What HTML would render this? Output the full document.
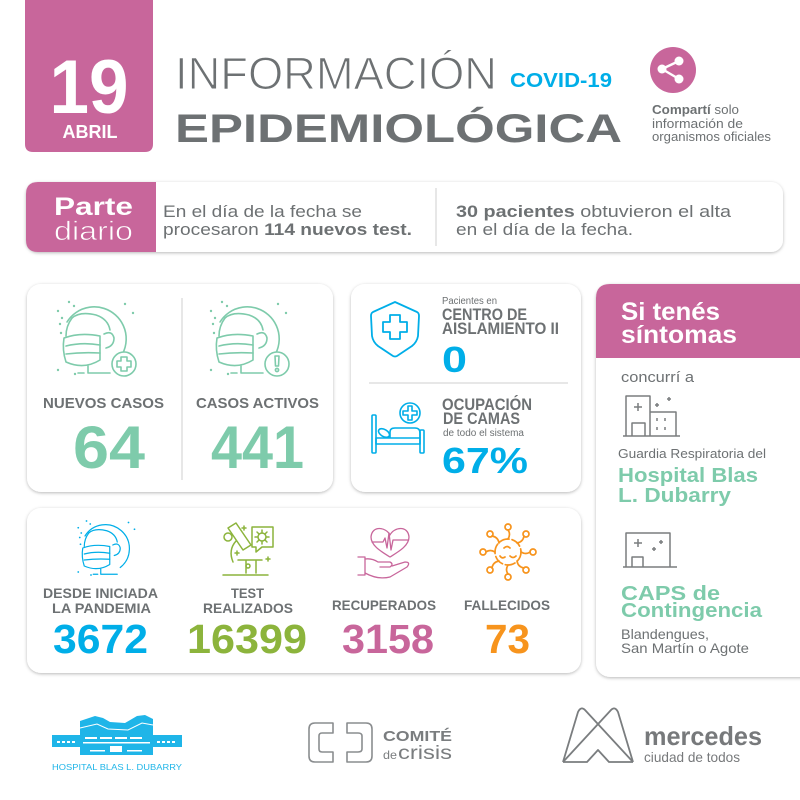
<!DOCTYPE html>
<html><head><meta charset="utf-8">
<style>
html,body{margin:0;padding:0;background:#fff;}
svg{display:block;}
text{font-family:"Liberation Sans",sans-serif;}
</style></head><body>
<svg width="800" height="800" viewBox="0 0 800 800" xmlns="http://www.w3.org/2000/svg">
<defs>
<filter id="sh" x="-5%" y="-5%" width="110%" height="115%">
<feDropShadow dx="0" dy="1" stdDeviation="1.6" flood-color="#000" flood-opacity="0.28"/>
</filter>
<g id="headbase" fill="none" stroke="currentColor" stroke-width="1.6" stroke-linecap="round" stroke-linejoin="round">
  <path d="M67,322 A32,32 0 1 1 114,364"/>
  <path d="M72,318 Q80,311 96,315 Q108,319 110,330"/>
  <path d="M72,318 Q66,326 66,336"/>
  <path d="M64,338 Q80,332 100,336 L100,360 Q84,370 66,362 Q62,350 64,338 Z"/>
  <path d="M66,346 Q82,342 100,345"/>
  <path d="M66,354 Q82,352 100,353"/>
  <path d="M104,334 Q112,330 114,338 Q114,346 106,348"/>
  <path d="M88,366 V373 H110"/>
  <path d="M78,373 H84"/>
  <g fill="currentColor" stroke="none">
    <circle cx="58" cy="311" r="1.2"/><circle cx="62" cy="318" r="1.2"/><circle cx="69" cy="302" r="1.2"/>
    <circle cx="74" cy="306" r="1.2"/><circle cx="60" cy="324" r="1.2"/><circle cx="61" cy="333" r="1.2"/>
    <circle cx="125" cy="304" r="1.2"/><circle cx="133" cy="313" r="1.2"/><circle cx="58" cy="370" r="1.2"/>
    <circle cx="75" cy="374" r="1.2"/>
  </g>
</g>
</defs>
<rect width="800" height="800" fill="#fff"/>

<!-- Date box -->
<path d="M25,0 H153 V144 Q153,152 145,152 H33 Q25,152 25,144 Z" fill="#c8669b"/>
<text x="89" y="113" text-anchor="middle" font-size="76" font-weight="bold" fill="#fff" textLength="79" lengthAdjust="spacingAndGlyphs">19</text>
<text x="90" y="138" text-anchor="middle" font-size="18" font-weight="bold" fill="#fff" textLength="55" lengthAdjust="spacingAndGlyphs">ABRIL</text>

<!-- Title -->
<text x="175" y="89" font-size="45" fill="#6d7173" stroke="#fff" stroke-width="1.1" textLength="322" lengthAdjust="spacingAndGlyphs">INFORMACIÓN</text>
<text x="510" y="87" font-size="20" font-weight="bold" fill="#00aee8" textLength="102" lengthAdjust="spacingAndGlyphs">COVID-19</text>
<text x="175" y="142" font-size="40" font-weight="bold" fill="#6d7173" textLength="447" lengthAdjust="spacingAndGlyphs">EPIDEMIOLÓGICA</text>

<!-- Share -->
<circle cx="673" cy="70" r="23" fill="#c8669b"/>
<g stroke="#fff" stroke-width="2.4"><line x1="662" y1="69" x2="679" y2="61"/><line x1="662" y1="69" x2="679" y2="79"/></g>
<g fill="#fff"><circle cx="662" cy="69" r="4.5"/><circle cx="679" cy="61" r="4.5"/><circle cx="679" cy="79" r="4.5"/></g>
<text x="652" y="114" font-size="13" fill="#6d7173" textLength="87" lengthAdjust="spacingAndGlyphs"><tspan font-weight="bold">Compartí</tspan> solo</text>
<text x="652" y="128" font-size="13" fill="#6d7173" textLength="91" lengthAdjust="spacingAndGlyphs">información de</text>
<text x="652" y="141" font-size="13" fill="#6d7173" textLength="119" lengthAdjust="spacingAndGlyphs">organismos oficiales</text>

<!-- Parte diario -->
<rect x="26" y="182" width="757" height="70" rx="12" fill="#fff" filter="url(#sh)"/>
<path d="M38,182 H156 V252 H38 Q26,252 26,240 V194 Q26,182 38,182 Z" fill="#c8669b"/>
<text x="54" y="215" font-size="25" font-weight="bold" fill="#fff" textLength="79" lengthAdjust="spacingAndGlyphs">Parte</text>
<text x="54" y="240" font-size="27" fill="#fff" stroke="#c8669b" stroke-width="0.7" textLength="79" lengthAdjust="spacingAndGlyphs">diario</text>
<text x="163" y="217" font-size="17" fill="#6d7173" textLength="199" lengthAdjust="spacingAndGlyphs">En el día de la fecha se</text>
<text x="163" y="235" font-size="17" fill="#6d7173" textLength="249" lengthAdjust="spacingAndGlyphs">procesaron <tspan font-weight="bold">114 nuevos test.</tspan></text>
<line x1="436" y1="188" x2="436" y2="246" stroke="#cfcfcf" stroke-width="1"/>
<text x="456" y="217" font-size="17" fill="#6d7173" textLength="275" lengthAdjust="spacingAndGlyphs"><tspan font-weight="bold">30 pacientes</tspan> obtuvieron el alta</text>
<text x="456" y="235" font-size="17" fill="#6d7173" textLength="177" lengthAdjust="spacingAndGlyphs">en el día de la fecha.</text>

<!-- Card 1 -->
<rect x="27" y="284" width="306" height="208" rx="14" fill="#fff" filter="url(#sh)"/>
<line x1="182" y1="298" x2="182" y2="480" stroke="#cfcfcf" stroke-width="1"/>
<use href="#headbase" style="color:#7ecbab"/>
<use href="#headbase" style="color:#7ecbab" transform="translate(153,0)"/>
<g fill="#fff" stroke="#7ecbab" stroke-width="1.6" stroke-linejoin="round">
  <circle cx="124" cy="364" r="12"/>
  <path d="M121,357 H127 V361 H131 V367 H127 V371 H121 V367 H117 V361 H121 Z"/>
  <circle cx="277" cy="364" r="12"/>
  <path d="M275,356 H279 L278.5,366 H275.5 Z"/>
  <circle cx="277" cy="370" r="1.6"/>
</g>
<text x="43" y="408" font-size="15" font-weight="bold" fill="#6d7173" textLength="121" lengthAdjust="spacingAndGlyphs">NUEVOS CASOS</text>
<text x="73" y="468" font-size="60" font-weight="bold" fill="#7ecbab" textLength="72" lengthAdjust="spacingAndGlyphs">64</text>
<text x="196" y="408" font-size="15" font-weight="bold" fill="#6d7173" textLength="123" lengthAdjust="spacingAndGlyphs">CASOS ACTIVOS</text>
<text x="211" y="468" font-size="60" font-weight="bold" fill="#7ecbab" textLength="93" lengthAdjust="spacingAndGlyphs">441</text>

<!-- Card 2 -->
<rect x="351" y="284" width="230" height="208" rx="14" fill="#fff" filter="url(#sh)"/>
<g fill="none" stroke="#00aee8" stroke-width="1.8" stroke-linejoin="round">
  <path d="M395,302 L417,312 Q419,313 419,316 L418,336 Q417,342 412,346 L397,356 Q395,357 393,356 L378,346 Q373,342 372,336 L371,316 Q371,313 373,312 Z"/>
  <path d="M390,315 H400 V322 H407 V332 H400 V339 H390 V332 H383 V322 H390 Z"/>
</g>
<text x="442" y="304" font-size="10" fill="#6d7173" textLength="55" lengthAdjust="spacingAndGlyphs">Pacientes en</text>
<text x="442" y="320" font-size="17" font-weight="bold" fill="#6d7173" textLength="85" lengthAdjust="spacingAndGlyphs">CENTRO DE</text>
<text x="442" y="334" font-size="17" font-weight="bold" fill="#6d7173" textLength="117" lengthAdjust="spacingAndGlyphs">AISLAMIENTO II</text>
<text x="442" y="372" font-size="36" font-weight="bold" fill="#00aee8" textLength="25" lengthAdjust="spacingAndGlyphs">0</text>
<line x1="369" y1="383" x2="568" y2="383" stroke="#cfcfcf" stroke-width="1"/>
<g fill="none" stroke="#00aee8" stroke-width="1.6" stroke-linejoin="round">
  <rect x="372" y="415" width="4" height="38" rx="1"/>
  <rect x="420" y="430" width="4" height="23" rx="1"/>
  <rect x="376" y="438" width="44" height="6"/>
  <ellipse cx="384" cy="433" rx="6" ry="3.5" transform="rotate(30 384 433)"/>
  <path d="M390,438 V432 Q390,428 395,428 H415 Q420,428 420,433 V438"/>
  <circle cx="410" cy="413" r="10"/>
  <path d="M408,406 H412 V411 H417 V415 H412 V420 H408 V415 H403 V411 H408 Z"/>
</g>
<text x="442" y="410" font-size="17" font-weight="bold" fill="#6d7173" textLength="90" lengthAdjust="spacingAndGlyphs">OCUPACIÓN</text>
<text x="443" y="424" font-size="17" font-weight="bold" fill="#6d7173" textLength="77" lengthAdjust="spacingAndGlyphs">DE CAMAS</text>
<text x="443" y="436" font-size="10" fill="#6d7173" textLength="81" lengthAdjust="spacingAndGlyphs">de todo el sistema</text>
<text x="442" y="473" font-size="36" font-weight="bold" fill="#00aee8" textLength="86" lengthAdjust="spacingAndGlyphs">67%</text>

<!-- Card 3 -->
<rect x="596" y="284" width="220" height="393" rx="14" fill="#fff" filter="url(#sh)"/>
<path d="M610,284 H816 V358 H596 V298 Q596,284 610,284 Z" fill="#c8669b"/>
<text x="621" y="320" font-size="25" font-weight="bold" fill="#fff" textLength="99" lengthAdjust="spacingAndGlyphs">Si tenés</text>
<text x="621" y="343" font-size="25" font-weight="bold" fill="#fff" textLength="116" lengthAdjust="spacingAndGlyphs">síntomas</text>
<text x="621" y="382" font-size="15" fill="#6d7173" textLength="73" lengthAdjust="spacingAndGlyphs">concurrí a</text>
<g fill="none" stroke="#7a7d7f" stroke-width="1.5" stroke-linejoin="round">
  <path d="M626,436 V396 H650 V436"/>
  <path d="M650,412 H676 V436"/>
  <path d="M623,436 H680"/>
  <path d="M632,436 V423 H645 V436"/>
  <path d="M638,403 V411 M634,407 H642"/>
  <path d="M657,418 V421 M665,418 V421 M657,427 V430 M665,427 V430"/>
  <path d="M657,403 V407 M655,405 H659 M669,397 V401 M667,399 H671"/>
</g>
<text x="618" y="458" font-size="13" fill="#6d7173" textLength="148" lengthAdjust="spacingAndGlyphs">Guardia Respiratoria del</text>
<text x="618" y="482" font-size="20" font-weight="bold" fill="#7ecbab" textLength="140" lengthAdjust="spacingAndGlyphs">Hospital Blas</text>
<text x="618" y="502" font-size="20" font-weight="bold" fill="#7ecbab" textLength="113" lengthAdjust="spacingAndGlyphs">L. Dubarry</text>
<g fill="none" stroke="#7a7d7f" stroke-width="1.5" stroke-linejoin="round">
  <path d="M626,567 V533 H670 V567"/>
  <path d="M623,567 H677"/>
  <path d="M632,567 V557 H643 V567"/>
  <path d="M638,539 V547 M634,543 H642"/>
  <path d="M654,547 V551 M652,549 H656 M661,540 V544 M659,542 H663"/>
</g>
<text x="621" y="600" font-size="20" font-weight="bold" fill="#7ecbab" textLength="99" lengthAdjust="spacingAndGlyphs">CAPS de</text>
<text x="621" y="617" font-size="20" font-weight="bold" fill="#7ecbab" textLength="141" lengthAdjust="spacingAndGlyphs">Contingencia</text>
<text x="621" y="639" font-size="14" fill="#6d7173" textLength="88" lengthAdjust="spacingAndGlyphs">Blandengues,</text>
<text x="621" y="653" font-size="14" fill="#6d7173" textLength="128" lengthAdjust="spacingAndGlyphs">San Martín o Agote</text>

<!-- Card 4 -->
<rect x="27" y="508" width="554" height="165" rx="14" fill="#fff" filter="url(#sh)"/>
<use href="#headbase" style="color:#00aee8" transform="translate(34.75,294.5) scale(0.75)"/>
<text x="43" y="598" font-size="14" font-weight="bold" fill="#6d7173" textLength="115" lengthAdjust="spacingAndGlyphs">DESDE INICIADA</text>
<text x="52" y="613" font-size="14" font-weight="bold" fill="#6d7173" textLength="99" lengthAdjust="spacingAndGlyphs">LA PANDEMIA</text>
<text x="53" y="653" font-size="41" font-weight="bold" fill="#00aee8" textLength="95" lengthAdjust="spacingAndGlyphs">3672</text>

<g fill="none" stroke="#8cb43c" stroke-width="1.5" stroke-linejoin="round" stroke-linecap="round">
  <path d="M252,527 H273 V547 H262 L256,552 V547 H252 Z"/>
  <circle cx="262" cy="537" r="4"/>
  <path d="M262,530 V533 M262,541 V544 M255,537 H258 M266,537 H269 M257,532 L259,534 M265,540 L267,542 M267,532 L265,534 M257,542 L259,540"/>
  <path d="M228,528 L236,523 L251,545 L243,550 Z"/>
  <circle cx="228" cy="537" r="4"/>
  <path d="M236,541 Q228,550 233,562"/>
  <path d="M238,560 H262 M246,560 V573 M256,560 V573"/>
  <circle cx="248" cy="566" r="2"/>
  <path d="M223,575 H268"/>
  <path d="M244,526 V530 M242,528 H246 M237,551 V555 M235,553 H239 M268,557 V561 M266,559 H270"/>
</g>
<text x="231" y="598" font-size="14" font-weight="bold" fill="#6d7173" textLength="33" lengthAdjust="spacingAndGlyphs">TEST</text>
<text x="203" y="613" font-size="14" font-weight="bold" fill="#6d7173" textLength="90" lengthAdjust="spacingAndGlyphs">REALIZADOS</text>
<text x="187" y="653" font-size="41" font-weight="bold" fill="#8cb43c" textLength="120" lengthAdjust="spacingAndGlyphs">16399</text>

<g fill="none" stroke="#c8669b" stroke-width="1.3" stroke-linejoin="round" stroke-linecap="round">
  <path d="M390,535 C386,527 372,525 371,537 C371,546 382,552 390,557 C398,552 409,546 409,537 C408,525 394,527 390,535 Z"/>
  <path d="M372,542 H383 L385,538 L387,548 L389,533 L391,550 L393,540 H408"/>
  <path d="M358,557 H365 V575 H358"/>
  <path d="M365,559 Q372,558 378,562 H390 Q394,564 390,567 H380"/>
  <path d="M365,573 Q378,580 390,577 L407,567 Q411,562 405,562 L392,566"/>
</g>
<text x="332" y="610" font-size="14" font-weight="bold" fill="#6d7173" textLength="104" lengthAdjust="spacingAndGlyphs">RECUPERADOS</text>
<text x="342" y="653" font-size="41" font-weight="bold" fill="#c8669b" textLength="92" lengthAdjust="spacingAndGlyphs">3158</text>

<g fill="none" stroke="#f7941d" stroke-width="1.7" stroke-linecap="round">
  <circle cx="508" cy="552" r="13" stroke-dasharray="10 3"/>
  <path d="M504,548 Q507,545 510,548 M510,556 Q513,559 516,556 M500,556 Q502,559 505,557"/>
  <path d="M508,539 Q511,534 508,530"/><circle cx="508" cy="527" r="3"/>
  <path d="M517,543 Q523,542 524,536"/><circle cx="526" cy="534" r="3"/>
  <path d="M521,552 Q526,555 530,552"/><circle cx="533" cy="552" r="3"/>
  <path d="M517,561 Q518,567 524,568"/><circle cx="526" cy="570" r="3"/>
  <path d="M508,565 Q505,570 508,574"/><circle cx="508" cy="577" r="3"/>
  <path d="M499,561 Q493,562 492,568"/><circle cx="490" cy="570" r="3"/>
  <path d="M495,552 Q490,549 486,552"/><circle cx="483" cy="552" r="3"/>
  <path d="M499,543 Q498,537 492,536"/><circle cx="490" cy="534" r="3"/>
</g>
<text x="464" y="610" font-size="14" font-weight="bold" fill="#6d7173" textLength="86" lengthAdjust="spacingAndGlyphs">FALLECIDOS</text>
<text x="485" y="653" font-size="41" font-weight="bold" fill="#f7941d" textLength="45" lengthAdjust="spacingAndGlyphs">73</text>

<!-- Hospital logo -->
<g fill="#1fb5e8">
  <path d="M80,721 L95,716 L103,718 L110,722 L125,723 L137,716 L145,715 L153,719 V735 H80 Z"/>
  <rect x="52" y="735" width="130" height="12"/>
  <rect x="80" y="747" width="73" height="8"/>
</g>
<path d="M80,728 L97,724 L108,729 L128,730 L142,723 L153,725" fill="none" stroke="#fff" stroke-width="1"/>
<g fill="#fff">
  <rect x="57" y="741" width="3" height="2"/><rect x="62" y="741" width="3" height="2"/><rect x="67" y="741" width="3" height="2"/><rect x="72" y="741" width="3" height="2"/>
  <rect x="85" y="737" width="12" height="2"/><rect x="100" y="737" width="12" height="2"/><rect x="115" y="737" width="12" height="2"/><rect x="130" y="737" width="12" height="2"/>
  <rect x="83" y="742" width="67" height="1.5"/>
  <rect x="157" y="741" width="3" height="2"/><rect x="162" y="741" width="3" height="2"/><rect x="167" y="741" width="3" height="2"/><rect x="172" y="741" width="3" height="2"/>
  <rect x="110" y="746" width="12" height="6"/><rect x="90" y="750" width="15" height="1.5"/><rect x="127" y="750" width="15" height="1.5"/>
</g>
<text x="52" y="770" font-size="8.5" fill="#1fb5e8" textLength="130" lengthAdjust="spacingAndGlyphs">HOSPITAL BLAS L. DUBARRY</text>

<!-- Comité logo -->
<g fill="none" stroke="#8a8d8f" stroke-width="1.6" stroke-linejoin="round">
  <path d="M333,723 H315 Q309,723 309,729 V756 Q309,762 315,762 H333 V752 H322 Q319,752 319,749 V736 Q319,733 322,733 H333 Z"/>
  <path d="M347,723 H366 Q372,723 372,729 V756 Q372,762 366,762 H347 V752 H358 Q362,752 362,749 V736 Q362,733 358,733 H347 Z"/>
</g>
<text x="383" y="741" font-size="15" font-weight="bold" fill="#7a7d7f" textLength="69" lengthAdjust="spacingAndGlyphs">COMITÉ</text>
<text x="383" y="759" font-size="12" fill="#7a7d7f" textLength="14" lengthAdjust="spacingAndGlyphs">de</text>
<text x="398" y="759" font-size="19" fill="#7a7d7f" textLength="54" lengthAdjust="spacingAndGlyphs">crisis</text>

<!-- Mercedes logo -->
<g fill="none" stroke="#7a7d7f" stroke-width="1.8" stroke-linejoin="round">
  <path d="M563,762 L578,712 Q581,706 585,710 L633,762"/>
  <path d="M633,762 L618,712 Q615,706 611,710 L563,762"/>
  <path d="M563,762 H587 L598,750 L609,762 H633"/>
</g>
<text x="644" y="745" font-size="26" font-weight="bold" fill="#77797b" textLength="118" lengthAdjust="spacingAndGlyphs">mercedes</text>
<text x="644" y="762" font-size="14" fill="#77797b" textLength="96" lengthAdjust="spacingAndGlyphs">ciudad de todos</text>
</svg>
</body></html>
